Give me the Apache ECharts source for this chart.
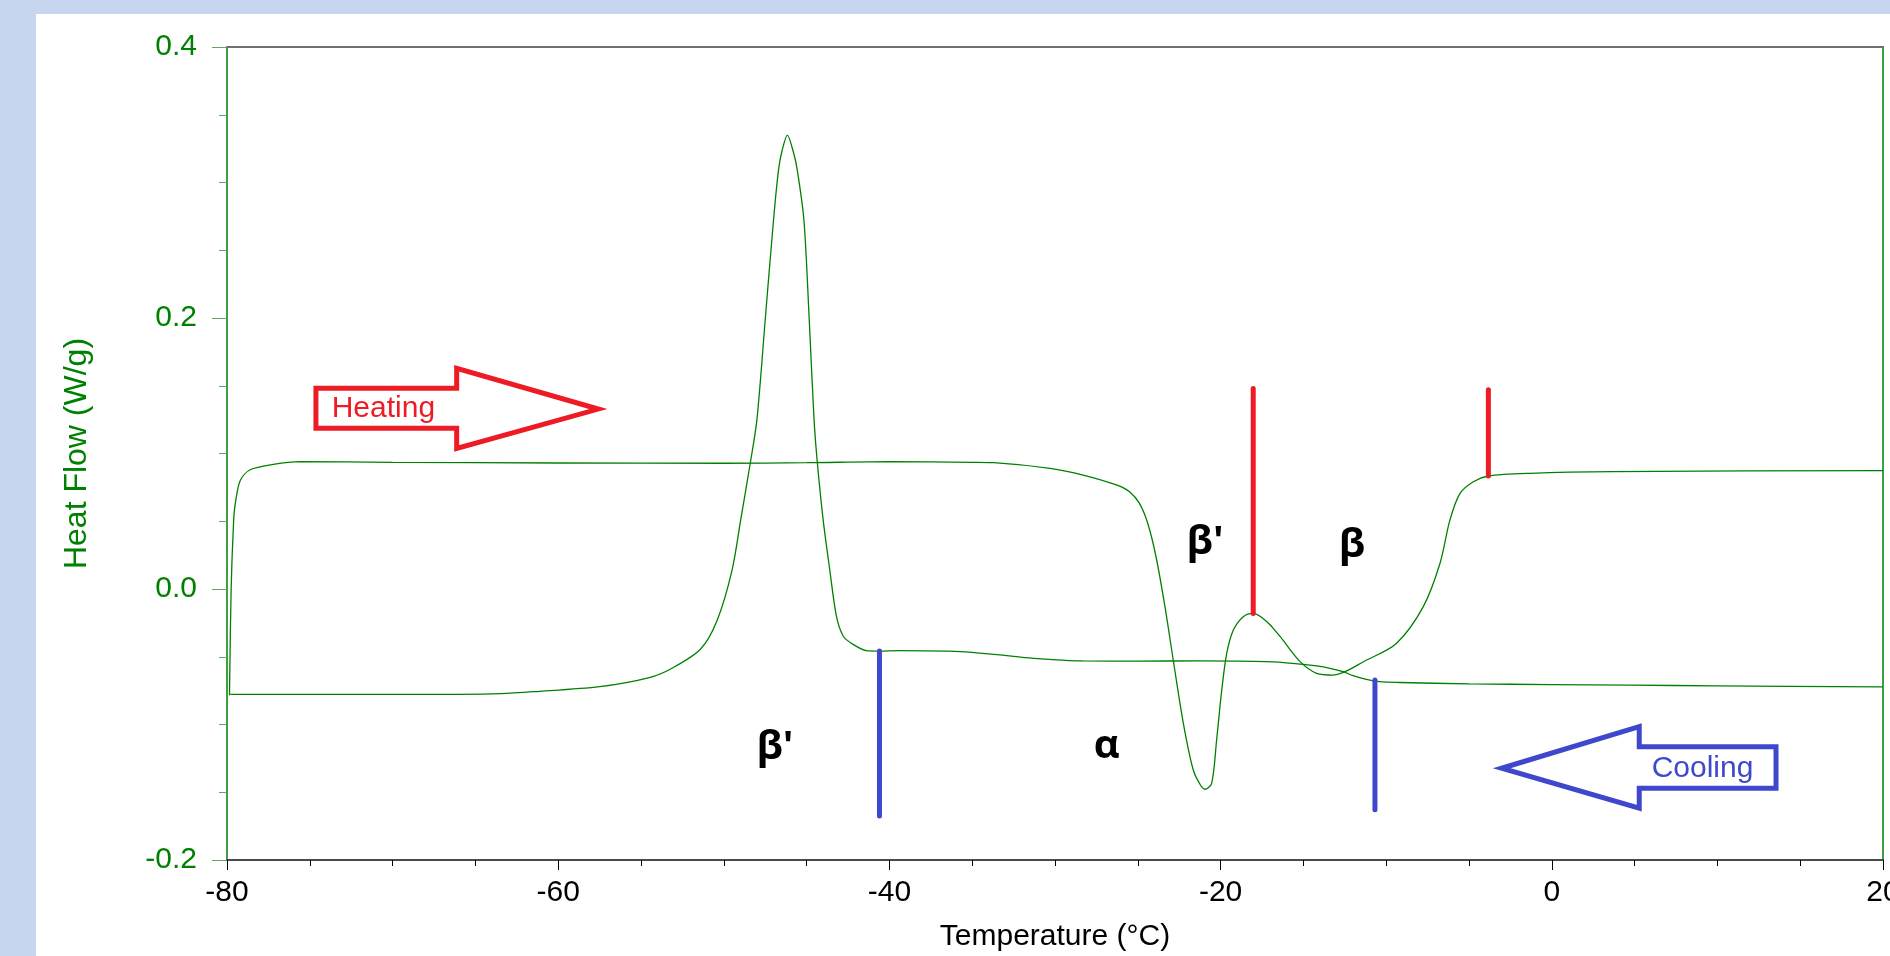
<!DOCTYPE html>
<html>
<head>
<meta charset="utf-8">
<title>DSC Heat Flow</title>
<script src="https://cdn.jsdelivr.net/npm/echarts@6/dist/echarts.min.js"></script>
<style>
  html, body { margin: 0; padding: 0; background: #c7d5ee; overflow: hidden; }
  #panel {
    position: absolute; left: 36px; top: 14px;
    width: 1854px; height: 942px; background: #ffffff;
  }
  #chart { width: 100%; height: 100%; }
</style>
</head>
<body>
<div id="panel"><div id="chart"></div></div>
<script>
// ── Data ───────────────────────────────────────────────────────────────────
// Cooling run: 20 °C → -80 °C
const coolingT = [20, 10, 4.7, 0, -5, -9.2, -10.4, -11.2, -12.0, -12.6, -13.4, -14.2, -15.5,
  -17.2, -21.2, -25, -28.3, -31.3, -33.5, -35.7, -39.4, -40.6, -41.4, -42.3, -42.8, -43.2,
  -43.6, -44.0, -44.35, -44.55, -44.84, -45.16, -45.56, -45.8, -46.16, -46.5,
  -46.7, -47.0, -47.5, -48.0, -48.4, -48.98, -49.5, -50.4, -51.4, -53.1, -54.5, -57.5, -61.5,
  -63.5, -66, -70, -79.8];
const coolingHF = [-0.0722, -0.0715, -0.0709, -0.0705, -0.0700, -0.0690, -0.0684, -0.0667, -0.0640,
  -0.0610, -0.0585, -0.0568, -0.0550, -0.0536, -0.0531, -0.0532, -0.0531, -0.0512, -0.0485, -0.0462,
  -0.0455, -0.0458, -0.0455, -0.0400, -0.0345, -0.0200, 0.014, 0.051, 0.093, 0.125, 0.1985, 0.272,
  0.309, 0.3225, 0.335, 0.3225, 0.309, 0.272, 0.1985, 0.125, 0.093, 0.051, 0.014,
  -0.023, -0.0443, -0.0583, -0.0654, -0.0721, -0.0758, -0.0772, -0.0777, -0.0778, -0.0778];

// Heating run: -80 °C → 20 °C
const heatingT = [-79.85, -79.75, -79.6, -79.5, -79.2, -78.6, -77.2, -75.6, -70, -60, -50, -45, -40,
  -35, -33.7, -30.3, -28.3, -26.3, -25.5, -24.9, -24.4, -23.9, -23.36, -22.86, -22.25, -21.65, -21.2,
  -20.94, -20.54, -20.24, -19.93, -19.63, -19.23, -18.63, -18.03, -17.2, -16.4, -15.2, -14.2, -13.2,
  -11.18, -9.37, -7.76, -6.75, -6.15, -5.54, -4.74, -3.84, -1.31, 3.7, 19.8, 20];
const heatingHF = [-0.0785, 0.0, 0.05, 0.063, 0.080, 0.088, 0.092, 0.094, 0.0935, 0.093, 0.0928,
  0.0932, 0.094, 0.0935, 0.0932, 0.089, 0.0841, 0.0768, 0.0718, 0.0632, 0.0485, 0.0238, -0.013,
  -0.0524, -0.0991, -0.1336, -0.145, -0.1478, -0.1434, -0.1114, -0.0745, -0.0475, -0.0303, -0.0204,
  -0.018, -0.0241, -0.0352, -0.0536, -0.0622, -0.0635, -0.0524, -0.040, -0.013, 0.019, 0.051, 0.0706,
  0.0792, 0.0834, 0.0854, 0.0866, 0.0873, 0.0873];

// Transition markers (vertical bars)
const markerT      = [-18.03, -3.83, -40.6, -10.68];
const markerTop    = [0.148, 0.147, -0.0458, -0.0672];
const markerBottom = [-0.018, 0.0834, -0.1675, -0.163];
const markerKind   = ['heat', 'heat', 'cool', 'cool'];

// Polymorph labels
const phaseName = ["β'", 'α', "β'", 'β'];
const phaseT    = [-46.91, -26.88, -20.94, -12.07];
const phaseHF   = [-0.1173, -0.1164, 0.0339, 0.0317];

// Direction arrows (outline vertices, data coordinates)
const heatArrowT  = [-74.63, -66.13, -66.13, -57.58, -66.13, -66.13, -74.63];
const heatArrowHF = [0.1481, 0.1481, 0.1629, 0.1328, 0.1038, 0.1186, 0.1186];
const coolArrowT  = [-3.03, 5.28, 5.28, 13.54, 13.54, 5.28, 5.28];
const coolArrowHF = [-0.1323, -0.1016, -0.1164, -0.1164, -0.1471, -0.1471, -0.1618];
const arrowLabel  = ['Heating', 'Cooling'];
const arrowLabelT = [-73.68, 6.03];
const arrowLabelHF = [0.133, -0.1323];

// ── Styles ─────────────────────────────────────────────────────────────────
const GREEN = '#008000';
const RED   = '#ed1c24';
const BLUE  = '#3f48cc';
const FONT  = '"Liberation Sans", Arial, sans-serif';

const zip = (xs, ys) => xs.map((x, i) => [x, ys[i]]);

const chart = echarts.init(document.getElementById('chart'), null, { renderer: 'canvas' });

const markerSeries = markerT.map((t, i) => ({
  type: 'line',
  data: [[t, markerTop[i]], [t, markerBottom[i]]],
  showSymbol: false,
  silent: true,
  z: 4,
  lineStyle: { color: markerKind[i] === 'heat' ? RED : BLUE, width: 5, cap: 'round' },
}));

// thermogram traces share one look
const traceStyle = {
  type: 'line',
  showSymbol: false,
  smooth: 0.3,
  lineStyle: { color: GREEN, width: 1.3 },
  z: 3,
};

const option = {
  backgroundColor: '#ffffff',
  animation: false,
  grid: {
    left: 191, top: 33, right: 7, bottom: 96,
    containLabel: false,
    outerBoundsMode: 'none',   // "20" label is cut at the right edge like the original
  },
  xAxis: [{
    type: 'value',
    min: -80, max: 20, interval: 20,
    name: 'Temperature (°C)',
    nameLocation: 'middle',
    nameGap: 62,
    nameTextStyle: { color: '#000', fontSize: 30, fontFamily: FONT },
    axisLine: { onZero: false, lineStyle: { color: '#4a4a4a', width: 2 } },
    axisTick: { show: true, length: 10, lineStyle: { color: '#000', width: 1 } },
    minorTick: { show: true, splitNumber: 4, length: 6, lineStyle: { color: '#000', width: 1 } },
    axisLabel: { color: '#000', fontSize: 30, fontFamily: FONT, margin: 18, hideOverlap: false },
    splitLine: { show: false },
  }, {
    type: 'value', position: 'top',
    min: -80, max: 20,
    axisLine: { onZero: false, lineStyle: { color: '#707070', width: 2 } },
    axisTick: { show: false }, axisLabel: { show: false }, splitLine: { show: false },
  }],
  yAxis: [{
    type: 'value',
    min: -0.2, max: 0.4, interval: 0.2,
    name: 'Heat Flow (W/g)',
    nameLocation: 'middle',
    nameGap: 134,
    nameTextStyle: { color: GREEN, fontSize: 32, fontFamily: FONT },
    axisLine: { onZero: false, lineStyle: { color: GREEN, width: 1.5 } },
    axisTick: { show: true, length: 15, lineStyle: { color: '#5aac5a', width: 1 } },
    minorTick: { show: true, splitNumber: 4, length: 8, lineStyle: { color: '#5aac5a', width: 1 } },
    axisLabel: {
      color: GREEN, fontSize: 30, fontFamily: FONT, margin: 30,
      formatter: v => v.toFixed(1),
    },
    splitLine: { show: false },
  }, {
    type: 'value', position: 'right',
    min: -0.2, max: 0.4,
    axisLine: { onZero: false, lineStyle: { color: GREEN, width: 1.5 } },
    axisTick: { show: false }, axisLabel: { show: false }, splitLine: { show: false },
  }],
  series: [
    { ...traceStyle, name: 'Cooling', data: zip(coolingT, coolingHF) },
    { ...traceStyle, name: 'Heating', data: zip(heatingT, heatingHF) },
    ...markerSeries,
    {
      // Heating / Cooling outlined arrows with their captions
      type: 'custom',
      coordinateSystem: 'cartesian2d',
      clip: false,
      silent: true,
      z: 5,
      data: [[arrowLabelT[0], arrowLabelHF[0]], [arrowLabelT[1], arrowLabelHF[1]]],
      renderItem: (params, api) => {
        const i = params.dataIndex;
        const ts = i === 0 ? heatArrowT : coolArrowT;
        const hs = i === 0 ? heatArrowHF : coolArrowHF;
        const color = i === 0 ? RED : BLUE;
        const pts = ts.map((t, k) => api.coord([t, hs[k]]));
        const lp = api.coord([arrowLabelT[i], arrowLabelHF[i]]);
        return {
          type: 'group',
          children: [{
            type: 'polygon',
            shape: { points: pts },
            style: { fill: 'none', stroke: color, lineWidth: 5, lineJoin: 'miter' },
          }, {
            type: 'text',
            style: {
              text: arrowLabel[i], x: lp[0], y: lp[1],
              fill: color, fontSize: 30, fontFamily: FONT,
              align: 'left', verticalAlign: 'middle',
            },
          }],
        };
      },
    },
    {
      // Polymorph labels
      type: 'custom',
      coordinateSystem: 'cartesian2d',
      clip: false,
      silent: true,
      z: 5,
      data: zip(phaseT, phaseHF),
      renderItem: (params, api) => {
        const p = api.coord([api.value(0), api.value(1)]);
        return {
          type: 'text',
          style: {
            text: phaseName[params.dataIndex], x: p[0], y: p[1],
            fill: '#000', fontSize: 40, fontWeight: 'bold',
            fontFamily: '"Open Sans", "Noto Sans", sans-serif',
            align: 'center', verticalAlign: 'middle',
          },
        };
      },
    },
  ],
};

chart.setOption(option);
</script>
</body>
</html>
